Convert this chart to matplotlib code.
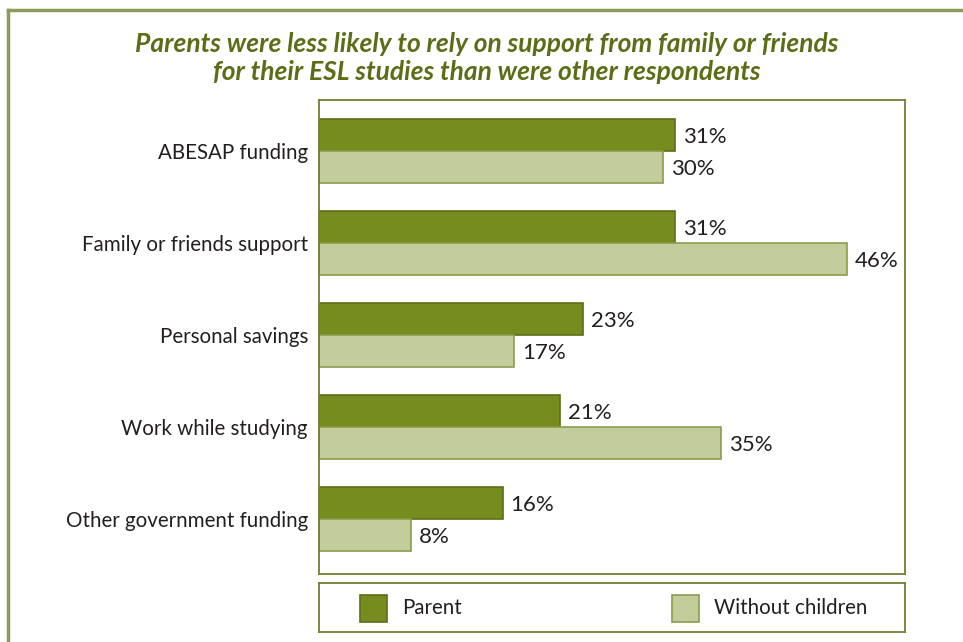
import matplotlib
matplotlib.use("Agg")
import matplotlib.pyplot as plt
from matplotlib.patches import Rectangle
from matplotlib.lines import Line2D
import numpy as np

categories = ["ABESAP funding", "Family or friends support", "Personal savings",
              "Work while studying", "Other government funding"]
parent = [31, 31, 23, 21, 16]
without_children = [30, 46, 17, 35, 8]
series_names = ["Parent", "Without children"]
title = ("Parents were less likely to rely on support from family or friends\n"
         "for their ESL studies than were other respondents")

DARK = "#778c1e"
DARK_EDGE = "#5c6e15"
LIGHT = "#c3cd9b"
LIGHT_EDGE = "#8c9c4c"
FRAME = "#6f8030"
OUTER = "#8c9a5c"
TEXT = "#231f20"
TITLE_C = "#5b6e17"
FONT = "Lato"

W, H = 963, 642
fig = plt.figure(figsize=(W / 100, H / 100), dpi=100)

def px_axes(x0, y0, x1, y1, **kw):
    return fig.add_axes([x0 / W, 1 - y1 / H, (x1 - x0) / W, (y1 - y0) / H], **kw)

# outer page frame
fig.add_artist(Line2D([8 / W, 8 / W], [0, 1 - 10 / H], transform=fig.transFigure,
                      color=OUTER, lw=2.5, solid_capstyle="projecting"))
fig.add_artist(Line2D([8 / W, 1], [1 - 10 / H, 1 - 10 / H], transform=fig.transFigure,
                      color=OUTER, lw=2.5, solid_capstyle="projecting"))

fig.text(487 / W, 1 - 58 / H, title, ha="center", va="center", color=TITLE_C,
         fontsize=19, fontweight="bold", fontstyle="italic", family=FONT,
         linespacing=1.25)

ax = px_axes(319, 100, 905, 574)
y = np.arange(len(categories))
h = 0.35
ax.barh(y - h / 2, parent, height=h, color=DARK, edgecolor=DARK_EDGE, lw=1.2,
        label=series_names[0])
ax.barh(y + h / 2, without_children, height=h, color=LIGHT, edgecolor=LIGHT_EDGE,
        lw=1.2, label=series_names[1])
for i, (p, w) in enumerate(zip(parent, without_children)):
    ax.text(p + 0.7, i - h / 2 + 0.02, f"{p}%", va="center", ha="left", fontsize=16,
            color=TEXT, family=FONT)
    ax.text(w + 0.7, i + h / 2 + 0.02, f"{w}%", va="center", ha="left", fontsize=16,
            color=TEXT, family=FONT)

ax.set_xlim(0, 51.05)
ax.set_ylim(4.598, -0.554)
ax.set_xticks([])
ax.set_yticks(y)
ax.set_yticklabels(categories, fontsize=14.8, color=TEXT, family=FONT)
ax.tick_params(axis="y", length=0, pad=8)
for s in ax.spines.values():
    s.set_color(FRAME)
    s.set_linewidth(1.3)

# legend box
lax = px_axes(319, 583, 905, 632)
lax.set_xlim(0, 586)
lax.set_ylim(49, 0)
lax.set_xticks([])
lax.set_yticks([])
for s in lax.spines.values():
    s.set_color(FRAME)
    s.set_linewidth(1.3)
for x0, fc, ec, name in [(41, DARK, DARK_EDGE, series_names[0]),
                         (353, LIGHT, LIGHT_EDGE, series_names[1])]:
    lax.add_patch(Rectangle((x0, 11.5), 27, 27, facecolor=fc, edgecolor=ec, lw=1.2))
    lax.text(x0 + 42, 25, name, va="center", ha="left", fontsize=14.8,
             color=TEXT, family=FONT)

fig.savefig("out.png", dpi=100)
